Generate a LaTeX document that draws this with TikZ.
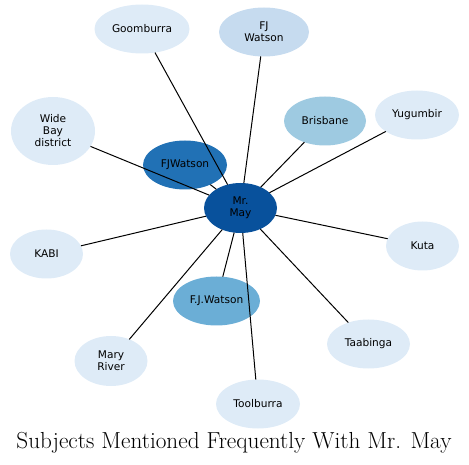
\documentclass[tikz,border=0pt]{standalone}
\usepackage{fontspec}
\newfontfamily\lbl{DejaVu Sans}
\usetikzlibrary{shapes.geometric}
\definecolor{c1}{HTML}{DEEBF7}
\definecolor{c2}{HTML}{C6DBEF}
\definecolor{c3}{HTML}{9ECAE1}
\definecolor{c4}{HTML}{6BAED6}
\definecolor{c5}{HTML}{2171B5}
\definecolor{c6}{HTML}{08519C}
\tikzset{
  nd/.style={ellipse, inner sep=0pt, outer sep=0pt, align=center, font=\lbl\fontsize{10.6}{12}\selectfont, text=black},
  ed/.style={draw=black, line width=1pt},
}
\begin{document}
\begin{tikzpicture}[x=1pt,y=-1pt]
\useasboundingbox (0,0) rectangle (469,465);
\node[nd, fill=c1, minimum width=95pt, minimum height=49pt] (goom) at (142,29) {Goomburra};
\node[nd, fill=c2, minimum width=90pt, minimum height=49pt] (fjw1) at (264,32) {FJ\\Watson};
\node[nd, fill=c1, minimum width=84pt, minimum height=68pt] (wide) at (53,131) {Wide\\Bay\\district};
\node[nd, fill=c3, minimum width=82pt, minimum height=49pt] (bris) at (325,121) {Brisbane};
\node[nd, fill=c1, minimum width=84pt, minimum height=49pt] (yugu) at (417,115) {Yugumbir};
\node[nd, fill=c5, minimum width=84pt, minimum height=49pt] (fjw2) at (185,165) {FJWatson};
\node[nd, fill=c6, minimum width=73pt, minimum height=50pt] (may) at (240.5,208) {Mr.\\May};
\node[nd, fill=c1, minimum width=73pt, minimum height=49pt] (kabi) at (46.5,254) {KABI};
\node[nd, fill=c1, minimum width=73pt, minimum height=49pt] (kuta) at (422.5,246) {Kuta};
\node[nd, fill=c4, minimum width=87pt, minimum height=49pt] (fjw3) at (216.5,301) {F.J.Watson};
\node[nd, fill=c1, minimum width=83pt, minimum height=49pt] (taab) at (368.5,344) {Taabinga};
\node[nd, fill=c1, minimum width=73pt, minimum height=50pt] (mary) at (111,361) {Mary\\River};
\node[nd, fill=c1, minimum width=84pt, minimum height=49pt] (tool) at (258,404) {Toolburra};
\foreach \n in {goom,fjw1,wide,bris,yugu,fjw2,kabi,kuta,fjw3,taab,mary,tool}
  \draw[ed] (\n) -- (may);
\node[font=\fontsize{23.2}{26}\selectfont, inner sep=0pt] (title) at (234,443) {Subjects Mentioned Frequently With Mr. May};
\end{tikzpicture}
\end{document}
